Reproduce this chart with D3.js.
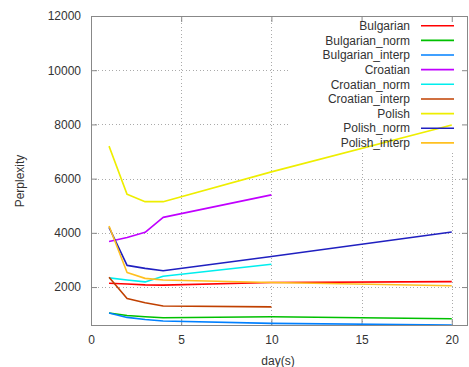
<!DOCTYPE html>
<html>
<head>
<meta charset="utf-8">
<script src="https://cdn.jsdelivr.net/npm/d3@7"></script>
<style>
  html, body { margin: 0; padding: 0; background: #fff; }
  svg { display: block; font-family: "Liberation Sans", Arial, sans-serif; }
</style>
</head>
<body>
<svg id="chart" width="469" height="367"></svg>
<script>
// Perplexity per day for each language model variant
const days = [1, 2, 3, 4, 10, 20];
const croatianDays = [1, 2, 3, 4, 10];

const bulgarian       = [2140, 2110, 2080, 2070, 2170, 2200];
const bulgarianNorm   = [1040, 950, 905, 870, 905, 830];
const bulgarianInterp = [1040, 880, 805, 750, 660, 600];
const croatian        = [3680, 3830, 4020, 4570, 5400];
const croatianNorm    = [2340, 2260, 2190, 2400, 2840];
const croatianInterp  = [2360, 1580, 1420, 1300, 1270];
const polish          = [7200, 5420, 5150, 5150, 6250, 7980];
const polishNorm      = [4200, 2800, 2690, 2600, 3130, 4030];
const polishInterp    = [4250, 2540, 2320, 2260, 2170, 2050];

const seriesNames  = ["Bulgarian", "Bulgarian_norm", "Bulgarian_interp",
                      "Croatian", "Croatian_norm", "Croatian_interp",
                      "Polish", "Polish_norm", "Polish_interp"];
const seriesColors = ["#ff0000", "#00c000", "#0080ff",
                      "#c000ff", "#00eeee", "#c04000",
                      "#eeee00", "#2020c0", "#ffc020"];
const seriesX = [days, days, days, croatianDays, croatianDays, croatianDays, days, days, days];
const seriesY = [bulgarian, bulgarianNorm, bulgarianInterp,
                 croatian, croatianNorm, croatianInterp,
                 polish, polishNorm, polishInterp];

const xTicks = [0, 5, 10, 15, 20];
const yTicks = [2000, 4000, 6000, 8000, 10000, 12000];

const series = seriesNames.map((name, i) => ({
  name, color: seriesColors[i],
  points: seriesX[i].map((d, j) => ({ day: d, value: seriesY[i][j] }))
}));

const svg = d3.select("#chart");
const plotLeft = 91, plotRight = 468, plotTop = 16, plotBottom = 325;

const yMin = d3.min(seriesY, s => d3.min(s));
const x = d3.scaleLinear().domain([0, 20.9]).range([plotLeft, plotRight]);
const y = d3.scaleLinear().domain([yMin, 12000]).range([plotBottom, plotTop]);

const textColor = "#333";
const frameColor = "#888";

// grid
const grid = svg.append("g")
  .attr("stroke", "#aaa").attr("stroke-width", 1)
  .attr("stroke-dasharray", "1,2.5").attr("shape-rendering", "crispEdges");
grid.selectAll("line.gx").data(xTicks.filter(t => t > 0)).join("line")
  .attr("x1", d => Math.round(x(d)) + 0.5).attr("x2", d => Math.round(x(d)) + 0.5)
  .attr("y1", plotTop).attr("y2", plotBottom);
grid.selectAll("line.gy").data(yTicks.filter(t => t < 12000)).join("line")
  .attr("x1", plotLeft).attr("x2", plotRight)
  .attr("y1", d => Math.round(y(d)) + 0.5).attr("y2", d => Math.round(y(d)) + 0.5);

// key background
const keyLeft = 289;
svg.append("rect")
  .attr("x", keyLeft).attr("y", plotTop + 1)
  .attr("width", plotRight - keyLeft - 1).attr("height", 133)
  .attr("fill", "#fff");

// axes with inward ticks
const xAxis = d3.axisBottom(x).tickValues(xTicks).tickSize(-6).tickPadding(10).tickFormat(d3.format("d"));
const yAxis = d3.axisLeft(y).tickValues(yTicks).tickSize(-6).tickPadding(10).tickFormat(d3.format("d"));

const gx = svg.append("g").attr("transform", `translate(0,${plotBottom})`).call(xAxis);
const gy = svg.append("g").attr("transform", `translate(${plotLeft},0)`).call(yAxis);
[gx, gy].forEach(g => {
  g.select(".domain").remove();
  g.selectAll(".tick line").attr("stroke", frameColor);
  g.selectAll(".tick text").attr("fill", textColor)
    .style("font-size", "12px").style("font-family", "'Liberation Sans', Arial, sans-serif");
});

// mirrored ticks on top and right
const gxTop = svg.append("g").attr("transform", `translate(0,${plotTop})`)
  .call(d3.axisTop(x).tickValues(xTicks).tickSize(-6).tickFormat(""));
const gyRight = svg.append("g").attr("transform", `translate(${plotRight},0)`)
  .call(d3.axisRight(y).tickValues(yTicks).tickSize(-6).tickFormat(""));
[gxTop, gyRight].forEach(g => {
  g.select(".domain").remove();
  g.selectAll(".tick line").attr("stroke", frameColor);
});

// data lines
const line = d3.line().x(d => x(d.day)).y(d => y(d.value));
svg.append("g").selectAll("path").data(series).join("path")
  .attr("d", d => line(d.points))
  .attr("fill", "none")
  .attr("stroke", d => d.color)
  .attr("stroke-width", 1.6)
  .attr("stroke-linejoin", "round");

// frame
svg.append("rect")
  .attr("x", plotLeft + 0.5).attr("y", plotTop + 0.5)
  .attr("width", plotRight - plotLeft - 1).attr("height", plotBottom - plotTop)
  .attr("fill", "none").attr("stroke", frameColor).attr("stroke-width", 1);

// key
const key = svg.append("g");
const rows = key.selectAll("g").data(series).join("g")
  .attr("transform", (d, i) => `translate(0,${25.7 + i * 14.65})`);
rows.append("text")
  .attr("x", 410).attr("dy", "0.35em").attr("text-anchor", "end")
  .attr("fill", textColor).style("font-size", "12px")
  .text(d => d.name);
rows.append("line")
  .attr("x1", 421).attr("x2", 454)
  .attr("stroke", d => d.color).attr("stroke-width", 1.6);

// axis titles
svg.append("text")
  .attr("x", 278).attr("y", 361).attr("dy", "0.35em")
  .attr("text-anchor", "middle").attr("fill", textColor).style("font-size", "12px")
  .text("day(s)");
svg.append("text")
  .attr("transform", "translate(20,181) rotate(-90)").attr("dy", "0.35em")
  .attr("text-anchor", "middle").attr("fill", textColor).style("font-size", "12px")
  .text("Perplexity");
</script>
</body>
</html>
